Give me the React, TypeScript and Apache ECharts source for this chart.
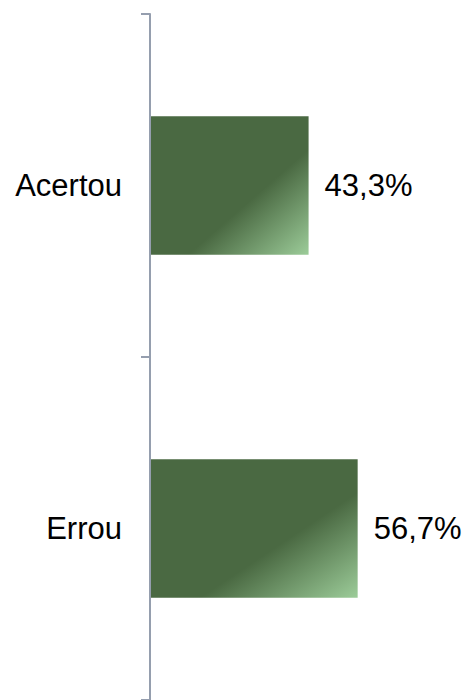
import React, { useEffect, useRef } from "react";
import * as echarts from "echarts";

const categories = ["Acertou", "Errou"];
const values = [43.3, 56.7];
const valueLabels = ["43,3%", "56,7%"];

export default function App() {
  const ref = useRef<HTMLDivElement>(null);
  useEffect(() => {
    if (!ref.current) return;
    const chart = echarts.init(ref.current, undefined, { renderer: "svg" });
    chart.setOption({
      animation: false,
      grid: { left: 150, top: 14, right: 24, bottom: -4, containLabel: false },
      xAxis: {
        type: "value",
        min: 0,
        max: 80,
        show: false,
      },
      yAxis: {
        type: "category",
        data: categories,
        inverse: true,
        axisLine: { show: true, lineStyle: { color: "#959eae", width: 2 } },
        axisTick: { show: true, length: 9, lineStyle: { color: "#959eae", width: 2 } },
        axisLabel: {
          margin: 28,
          fontSize: 31,
          color: "#000000",
          fontFamily: "Liberation Sans, Arial, sans-serif",
        },
        z: 5,
      },
      series: [
        {
          type: "bar",
          data: values,
          barWidth: "40.4%",
          itemStyle: {
            color: new echarts.graphic.LinearGradient(0, 0, 1, 1, [
              { offset: 0, color: "#4a6942" },
              { offset: 0.62, color: "#4a6942" },
              { offset: 1, color: "#9ccc99" },
            ]),
          },
          label: {
            show: true,
            position: "right",
            distance: 16,
            fontSize: 31,
            color: "#000000",
            fontFamily: "Liberation Sans, Arial, sans-serif",
            formatter: (p: any) => valueLabels[p.dataIndex],
          },
        },
      ],
    });
    return () => chart.dispose();
  }, []);
  return (
    <div
      ref={ref}
      style={{ position: "fixed", left: 0, top: 0, width: 467, height: 700, background: "#ffffff" }}
    />
  );
}
